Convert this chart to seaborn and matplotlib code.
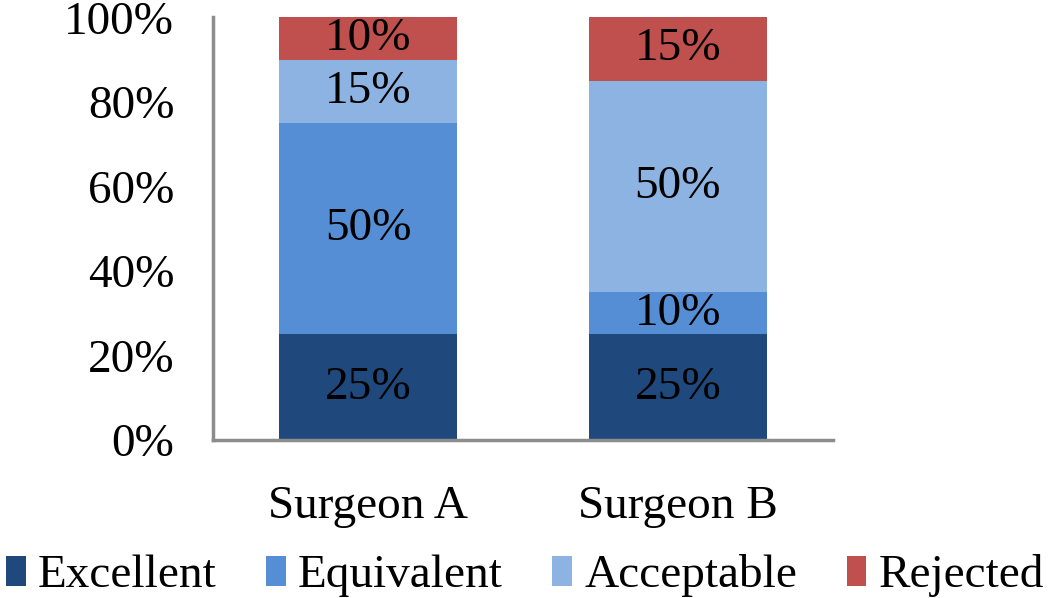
import numpy as np
import pandas as pd
import matplotlib
matplotlib.use("Agg")
import matplotlib.pyplot as plt
import seaborn as sns
from matplotlib.patches import Patch

surgeons = ["Surgeon A", "Surgeon B"]
categories = ["Excellent", "Equivalent", "Acceptable", "Rejected"]
excellent = [25, 25]
equivalent = [50, 10]
acceptable = [15, 50]
rejected = [10, 15]
colors = ["#1F497D", "#558ED5", "#8DB3E2", "#C0504D"]
yticks = [0, 20, 40, 60, 80, 100]

sns.set_theme(style="white")
plt.rcParams["font.family"] = ["Liberation Serif", "DejaVu Serif"]
plt.rcParams["text.color"] = "black"

series = [excellent, equivalent, acceptable, rejected]
df = pd.DataFrame({"surgeon": surgeons})
for c, s in zip(categories, series):
    df[c] = s
cum = df[categories].cumsum(axis=1)

fig = plt.figure(figsize=(10.5, 5.98), dpi=100)
ax = fig.add_axes([0.203, 0.264, 0.590, 0.707])

# draw cumulative totals from top layer down so each layer shows its segment
for c, col in reversed(list(zip(categories, colors))):
    sns.barplot(x=df["surgeon"], y=cum[c], color=col, width=0.574,
                saturation=1, ax=ax, label=c, edgecolor="none")

for i in range(len(surgeons)):
    bottom = 0
    for c in categories:
        v = df.loc[i, c]
        ax.text(i, bottom + v / 2, f"{v}%", ha="center", va="center",
                fontsize=34, color="black")
        bottom += v

ax.set_xlim(-0.5, 1.5)
ax.set_ylim(0, 100)
ax.set_yticks(yticks)
ax.set_yticklabels([f"{t}%" for t in yticks])
ax.set_xlabel("")
ax.set_ylabel("")
ax.tick_params(axis="both", labelsize=34, length=0, colors="black")
ax.tick_params(axis="y", pad=28)
ax.tick_params(axis="x", pad=33)
for s in ["top", "right"]:
    ax.spines[s].set_visible(False)
for s in ["left", "bottom"]:
    ax.spines[s].set_color("#8C8C8C")
    ax.spines[s].set_linewidth(2.5)
if ax.get_legend():
    ax.get_legend().remove()

handles = [Patch(facecolor=col, edgecolor="none") for col in colors]
leg = fig.legend(handles, categories, loc="lower center", bbox_to_anchor=(0.5, -0.07),
                 ncol=4, frameon=False, fontsize=34, handlelength=0.42,
                 handleheight=0.6, handletextpad=0.25, columnspacing=1.05)
for t in leg.get_texts():
    t.set_color("black")

fig.savefig("out.png", dpi=100)
